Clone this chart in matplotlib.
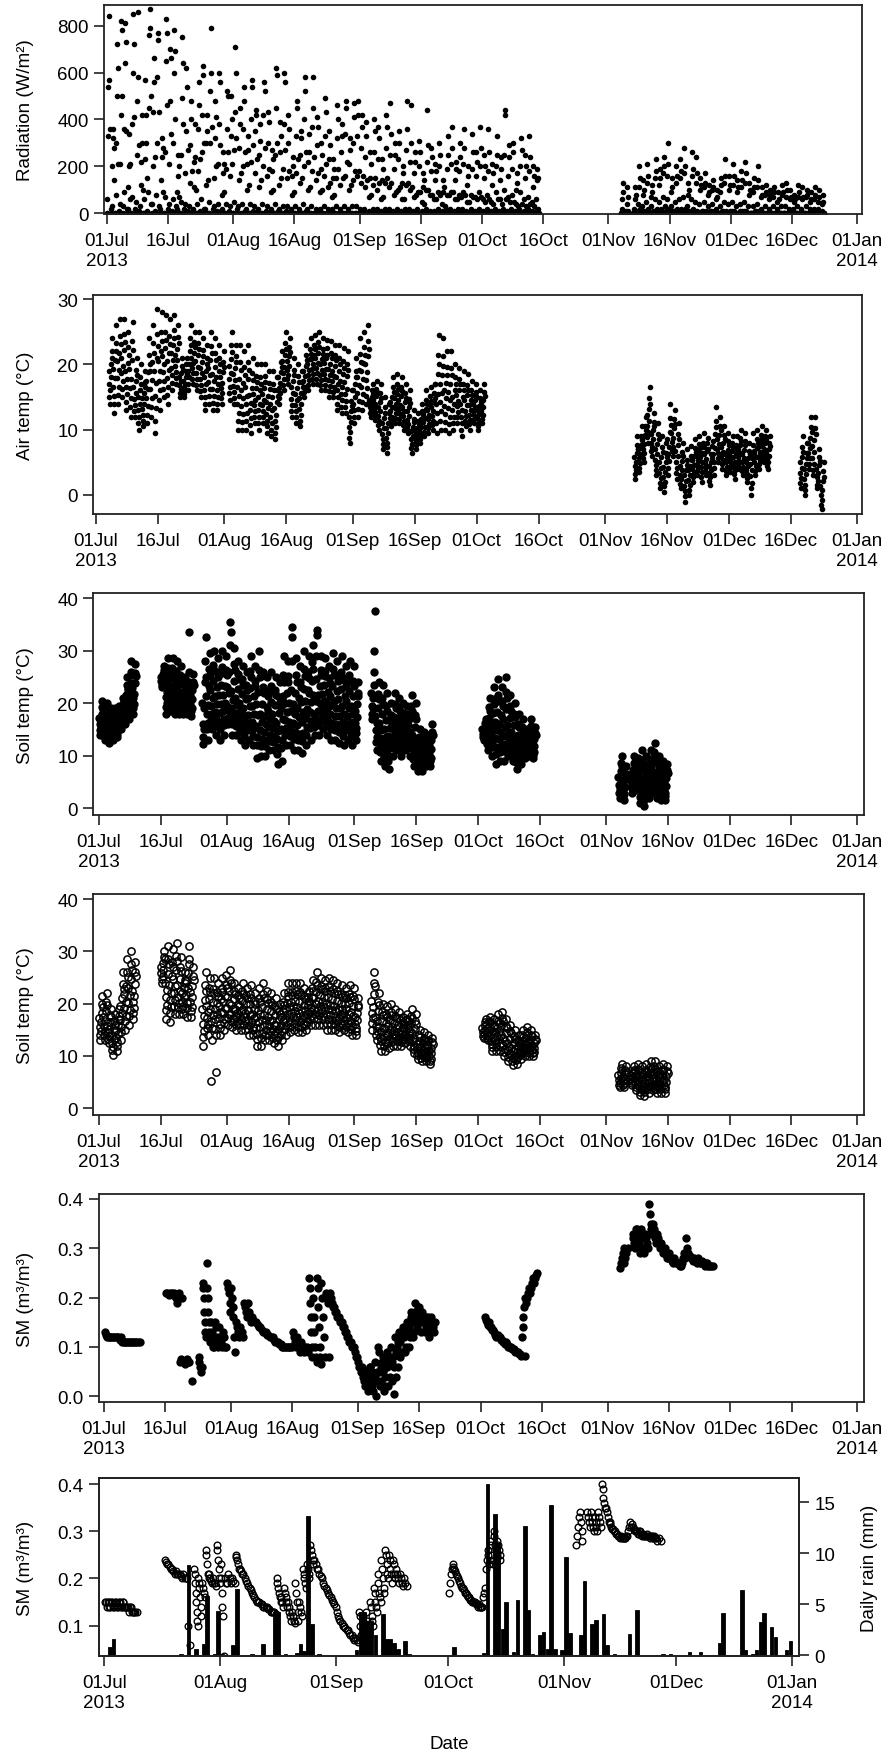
import matplotlib.pyplot as plt

plt.rcParams['font.family'] = ['Liberation Sans', 'DejaVu Sans']
plt.rcParams['font.size'] = 13.5

W, H = 884, 1758

# -------------------------------
# Date axis (days since 01 Jul 2013)
# -------------------------------
tick_days = [0, 15, 31, 46, 62, 77, 92, 107, 123, 138, 153, 168, 184]
tick_labels = ["01Jul\n2013", "16Jul", "01Aug", "16Aug", "01Sep", "16Sep", "01Oct",
               "16Oct", "01Nov", "16Nov", "01Dec", "16Dec", "01Jan\n2014"]
month_days = [0, 31, 62, 92, 123, 153, 184]
month_labels = ["01Jul\n2013", "01Aug", "01Sep", "01Oct", "01Nov", "01Dec", "01Jan\n2014"]

# -------------------------------
# Radiation (W/m2), readings per day
# -------------------------------
rad_jul = [
    [0, 60, 330, 540, 840, 570, 360, 20], [0, 30, 200, 320, 360, 280, 140, 0],
    [0, 80, 300, 500, 720, 620, 210, 10], [0, 40, 210, 420, 820, 780, 500, 30],
    [0, 90, 360, 640, 810, 730, 350, 20], [0, 20, 110, 200, 340, 210, 60, 0],
    [0, 70, 380, 600, 850, 720, 410, 20], [0, 50, 250, 480, 860, 580, 290, 10],
    [0, 30, 120, 220, 420, 300, 100, 0], [0, 60, 230, 570, 420, 300, 150, 10],
    [0, 90, 450, 760, 870, 790, 500, 40], [0, 40, 200, 430, 660, 560, 240, 10],
    [0, 80, 300, 580, 770, 740, 430, 30], [0, 20, 140, 240, 320, 280, 90, 0],
    [0, 70, 260, 650, 830, 770, 460, 20], [0, 40, 210, 480, 700, 660, 340, 10],
    [0, 60, 300, 600, 780, 690, 400, 30], [0, 20, 90, 160, 250, 200, 70, 0],
    [0, 50, 250, 490, 750, 640, 380, 20], [0, 40, 170, 350, 620, 540, 270, 10],
    [0, 30, 130, 290, 480, 400, 180, 0], [0, 20, 110, 220, 380, 240, 100, 0],
    [0, 40, 180, 360, 560, 460, 230, 10], [0, 60, 260, 420, 630, 590, 300, 20],
    [0, 20, 120, 300, 420, 350, 140, 0], [0, 50, 300, 520, 790, 600, 370, 20],
    [0, 30, 150, 320, 480, 410, 200, 10], [0, 40, 210, 380, 600, 560, 290, 10],
    [0, 20, 80, 170, 260, 210, 90, 0], [0, 40, 190, 360, 520, 500, 260, 10],
    [0, 30, 160, 330, 500, 400, 210, 0],
]
rad_aug = [
    [0, 50, 270, 430, 710, 600, 320, 20], [0, 30, 140, 280, 450, 380, 170, 0],
    [0, 40, 200, 360, 540, 480, 260, 10], [0, 20, 100, 210, 330, 270, 120, 0],
    [0, 40, 220, 400, 570, 540, 290, 10], [0, 30, 170, 350, 440, 420, 230, 0],
    [0, 20, 110, 250, 380, 310, 140, 0], [0, 40, 200, 420, 560, 520, 280, 10],
    [0, 30, 160, 300, 430, 390, 190, 0], [0, 20, 90, 180, 270, 230, 100, 0],
    [0, 40, 250, 450, 620, 590, 300, 10], [0, 20, 120, 260, 390, 330, 150, 0],
    [0, 30, 190, 380, 600, 560, 270, 10], [0, 30, 150, 300, 420, 360, 180, 0],
    [0, 20, 80, 160, 240, 200, 90, 0], [0, 30, 170, 330, 480, 450, 230, 0],
    [0, 20, 130, 250, 350, 320, 150, 0], [0, 40, 200, 400, 580, 520, 260, 10],
    [0, 20, 100, 220, 340, 260, 110, 0], [0, 30, 180, 370, 580, 450, 240, 0],
    [0, 20, 140, 290, 410, 370, 170, 0], [0, 20, 90, 190, 300, 250, 100, 0],
    [0, 30, 160, 330, 490, 430, 210, 0], [0, 20, 110, 230, 350, 290, 130, 0],
    [0, 20, 70, 150, 230, 190, 80, 0], [0, 30, 150, 320, 460, 400, 190, 0],
    [0, 20, 120, 260, 380, 330, 150, 0], [0, 30, 160, 340, 480, 450, 220, 0],
    [0, 20, 100, 210, 320, 270, 120, 0], [0, 30, 140, 300, 470, 410, 180, 0],
    [0, 30, 160, 330, 480, 420, 180, 0],
]
rad_sep = [
    [0, 20, 130, 280, 420, 370, 160, 0], [0, 20, 110, 240, 390, 330, 140, 0],
    [0, 10, 70, 150, 260, 210, 80, 0], [0, 20, 120, 260, 400, 350, 150, 0],
    [0, 20, 100, 230, 370, 320, 130, 0], [0, 10, 60, 140, 230, 190, 70, 0],
    [0, 20, 130, 280, 420, 370, 150, 0], [0, 20, 110, 250, 470, 340, 130, 0],
    [0, 10, 80, 190, 300, 250, 90, 0], [0, 20, 100, 230, 350, 300, 110, 0],
    [0, 10, 60, 130, 200, 170, 60, 0], [0, 20, 120, 270, 480, 360, 130, 0],
    [0, 20, 100, 220, 460, 300, 110, 0], [0, 10, 70, 170, 260, 220, 80, 0],
    [0, 20, 90, 200, 310, 260, 90, 0], [0, 10, 50, 110, 170, 140, 40, 0],
    [0, 20, 100, 220, 440, 290, 100, 0], [0, 10, 80, 180, 280, 240, 80, 0],
    [0, 10, 60, 140, 210, 180, 60, 0], [0, 20, 90, 200, 300, 250, 80, 0],
    [0, 10, 40, 90, 140, 110, 30, 0], [0, 20, 80, 190, 330, 250, 80, 0],
    [0, 20, 90, 210, 370, 280, 90, 0], [0, 10, 60, 140, 220, 190, 60, 0],
    [0, 20, 80, 180, 300, 240, 70, 0], [0, 20, 90, 210, 360, 280, 80, 0],
    [0, 10, 50, 120, 200, 160, 50, 0], [0, 20, 80, 190, 340, 260, 70, 0],
    [0, 10, 70, 160, 260, 220, 60, 0], [0, 20, 90, 200, 370, 280, 70, 0],
]
rad_oct = [
    [0, 10, 60, 150, 250, 200, 50, 0], [0, 20, 80, 180, 360, 260, 60, 0],
    [0, 10, 50, 120, 210, 170, 40, 0], [0, 20, 90, 200, 330, 250, 60, 0],
    [0, 10, 60, 140, 240, 190, 40, 0], [0, 20, 100, 250, 440, 420, 60, 0],
    [0, 10, 70, 160, 290, 240, 50, 0], [0, 20, 80, 190, 300, 260, 50, 0],
    [0, 10, 40, 100, 170, 130, 30, 0], [0, 20, 90, 200, 320, 270, 40, 0],
    [0, 10, 60, 150, 250, 200, 30, 0], [0, 20, 70, 180, 330, 240, 40, 0],
    [0, 10, 50, 110, 200, 160, 30, 0], [0, 10, 60, 140, 190, 150, 20, 0],
]
rad_nov1 = [
    [0, 0, 20, 60, 130, 90, 10, 0], [0, 0, 10, 40, 110, 70, 10, 0],
]
rad_nov_dec = [
    [0, 0, 20, 60, 110, 80, 10, 0], [0, 10, 40, 110, 200, 150, 20, 0],
    [0, 0, 30, 80, 140, 100, 10, 0], [0, 10, 50, 130, 210, 160, 20, 0],
    [0, 0, 30, 70, 120, 90, 10, 0], [0, 10, 60, 150, 230, 180, 20, 0],
    [0, 10, 50, 120, 190, 150, 20, 0], [0, 10, 70, 170, 240, 200, 30, 0],
    [0, 10, 60, 160, 300, 210, 20, 0], [0, 0, 30, 90, 150, 110, 10, 0],
    [0, 10, 50, 130, 200, 160, 20, 0], [0, 10, 60, 150, 230, 180, 20, 0],
    [0, 10, 70, 170, 280, 200, 20, 0], [0, 0, 30, 80, 130, 100, 10, 0],
    [0, 10, 60, 160, 260, 190, 20, 0], [0, 10, 50, 130, 240, 170, 10, 0],
    [0, 0, 40, 100, 150, 120, 10, 0], [0, 10, 50, 110, 170, 130, 10, 0],
    [0, 0, 30, 80, 120, 90, 10, 0], [0, 10, 40, 100, 140, 110, 10, 0],
    [0, 0, 20, 60, 100, 70, 0, 0], [0, 0, 30, 90, 150, 120, 10, 0],
    [0, 10, 50, 130, 230, 160, 10, 0], [0, 0, 40, 100, 160, 120, 10, 0],
    [0, 10, 50, 120, 210, 160, 10, 0], [0, 0, 30, 90, 140, 110, 0, 0],
    [0, 10, 40, 110, 180, 140, 10, 0], [0, 10, 50, 130, 220, 170, 10, 0],
    [0, 0, 30, 80, 130, 100, 0, 0], [0, 0, 30, 90, 150, 110, 10, 0],
    [0, 10, 40, 110, 200, 140, 10, 0], [0, 0, 20, 70, 110, 80, 0, 0],
    [0, 0, 30, 80, 120, 90, 0, 0], [0, 0, 20, 60, 100, 80, 0, 0],
    [0, 0, 30, 70, 110, 90, 0, 0], [0, 0, 20, 50, 90, 60, 0, 0],
    [0, 0, 30, 80, 120, 90, 0, 0], [0, 0, 30, 70, 130, 100, 0, 0],
    [0, 0, 20, 60, 100, 70, 0, 0], [0, 0, 20, 50, 80, 60, 0, 0],
    [0, 0, 30, 70, 120, 90, 0, 0], [0, 0, 20, 60, 110, 70, 0, 0],
    [0, 0, 30, 70, 100, 80, 0, 0], [0, 0, 20, 50, 90, 60, 0, 0],
    [0, 0, 20, 60, 110, 80, 0, 0], [0, 0, 20, 50, 100, 70, 0, 0],
    [0, 0, 10, 40, 80, 50, 0, 0],
]

# -------------------------------
# Air temperature (C)
# -------------------------------
air_jul_oct = [
    [19, 17, 15, 14, 16, 18, 20, 22, 24, 21],
    [19.3, 16.6, 13.9, 12.5, 15.2, 17.9, 20.6, 23.3, 26, 22],
    [20.5, 17.9, 15.3, 14, 16.6, 19.2, 21.8, 24.4, 27, 23.1],
    [21, 18.6, 16.2, 15, 17.4, 19.8, 22.2, 24.6, 27, 23.4],
    [19, 16.6, 14.2, 13, 15.4, 17.8, 20.2, 22.6, 25, 21.4],
    [19.3, 16.4, 13.5, 12, 14.9, 17.8, 20.7, 23.6, 26.5, 22.2],
    [16.5, 14.7, 12.9, 12, 13.8, 15.6, 17.4, 19.2, 21, 18.3],
    [15, 13, 11, 10, 12, 14, 16, 18, 20, 17],
    [14.8, 13.1, 11.4, 10.5, 12.2, 13.9, 15.6, 17.3, 19, 16.5],
    [17.5, 14.9, 12.3, 11, 13.6, 16.2, 18.8, 21.4, 24, 20.1],
    [19, 16.2, 13.4, 12, 14.8, 17.6, 20.4, 23.2, 26, 21.8],
    [19, 15.2, 11.4, 9.5, 13.3, 17.1, 20.9, 24.7, 28.5, 22.8],
    [20.5, 17.5, 14.5, 13, 16, 19, 22, 25, 28, 23.5],
    [21.3, 18.8, 16.3, 15, 17.5, 20, 22.5, 25, 27.5, 23.8],
    [20.5, 17.9, 15.3, 14, 16.6, 19.2, 21.8, 24.4, 27, 23.1],
    [21.8, 19.5, 17.2, 16, 18.3, 20.6, 22.9, 25.2, 27.5, 24.1],
    [21.5, 19.7, 17.9, 17, 18.8, 20.6, 22.4, 24.2, 26, 23.3],
    [18, 16.8, 15.6, 15, 16.2, 17.4, 18.6, 19.8, 21, 19.2],
    [17.5, 16.5, 15.5, 15, 16, 17, 18, 19, 20, 18.5],
    [21, 19, 17, 16, 18, 20, 22, 24, 26, 23],
    [21, 19.4, 17.8, 17, 18.6, 20.2, 21.8, 23.4, 25, 22.6],
    [20.5, 18.7, 16.9, 16, 17.8, 19.6, 21.4, 23.2, 25, 22.3],
    [19.5, 17.7, 15.9, 15, 16.8, 18.6, 20.4, 22.2, 24, 21.3],
    [18, 16, 14, 13, 15, 17, 19, 21, 23, 20],
    [19.5, 17.3, 15.1, 14, 16.2, 18.4, 20.6, 22.8, 25, 21.7],
    [18.5, 16.3, 14.1, 13, 15.2, 17.4, 19.6, 21.8, 24, 20.7],
    [18, 16, 14, 13, 15, 17, 19, 21, 23, 20],
    [18, 16.4, 14.8, 14, 15.6, 17.2, 18.8, 20.4, 22, 19.6],
    [],
    [19.8, 17.7, 15.6, 14.5, 16.6, 18.7, 20.8, 22.9, 25, 21.9],
    [18.5, 16.7, 14.9, 14, 15.8, 17.6, 19.4, 21.2, 23, 20.3],
    [16.5, 13.9, 11.3, 10, 12.6, 15.2, 17.8, 20.4, 23, 19.1],
    [16, 13.6, 11.2, 10, 12.4, 14.8, 17.2, 19.6, 22, 18.4],
    [16.5, 13.9, 11.3, 10, 12.6, 15.2, 17.8, 20.4, 23, 19.1],
    [15.3, 13, 10.7, 9.5, 11.8, 14.1, 16.4, 18.7, 21, 17.6],
    [15.5, 13.7, 11.9, 11, 12.8, 14.6, 16.4, 18.2, 20, 17.3],
    [15, 13, 11, 10, 12, 14, 16, 18, 20, 17],
    [15.5, 13.7, 11.9, 11, 12.8, 14.6, 16.4, 18.2, 20, 17.3],
    [14.3, 12.4, 10.5, 9.5, 11.4, 13.3, 15.2, 17.1, 19, 16.2],
    [14, 12, 10, 9, 11, 13, 15, 17, 19, 16],
    [13.3, 11.4, 9.5, 8.5, 10.4, 12.3, 14.2, 16.1, 18, 15.2],
    [18, 16.4, 14.8, 14, 15.6, 17.2, 18.8, 20.4, 22, 19.6],
    [20.5, 18.7, 16.9, 16, 17.8, 19.6, 21.4, 23.2, 25, 22.3],
    [20.5, 19.1, 17.7, 17, 18.4, 19.8, 21.2, 22.6, 24, 21.9],
    [16.5, 14.7, 12.9, 12, 13.8, 15.6, 17.4, 19.2, 21, 18.3],
    [15.5, 13.7, 11.9, 11, 12.8, 14.6, 16.4, 18.2, 20, 17.3],
    [14.8, 13.1, 11.4, 10.5, 12.2, 13.9, 15.6, 17.3, 19, 16.5],
    [19, 17.4, 15.8, 15, 16.6, 18.2, 19.8, 21.4, 23, 20.6],
    [20, 18.4, 16.8, 16, 17.6, 19.2, 20.8, 22.4, 24, 21.6],
    [20.8, 19.3, 17.8, 17, 18.5, 20, 21.5, 23, 24.5, 22.3],
    [21, 19.4, 17.8, 17, 18.6, 20.2, 21.8, 23.4, 25, 22.6],
    [20, 18.4, 16.8, 16, 17.6, 19.2, 20.8, 22.4, 24, 21.6],
    [20.2, 18.5, 16.9, 16, 17.7, 19.3, 20.9, 22.5, 23.8, 21.5],
    [19.3, 17.6, 15.9, 15, 16.7, 18.4, 20.1, 21.8, 23.5, 21],
    [19, 17.4, 15.8, 15, 16.6, 18.2, 19.8, 21.4, 23, 20.6],
    [18, 16, 14, 13, 15, 17, 19, 21, 23, 20],
    [17.5, 15.5, 13.5, 12.5, 14.5, 16.5, 18.5, 20.5, 22.5, 19.5],
    [17.3, 15.4, 13.5, 12.5, 14.4, 16.3, 18.2, 20.1, 22, 19.2],
    [12, 10.4, 8.8, 8, 9.6, 11.2, 12.8, 14.4, 16, 13.6],
    [16, 14, 12, 11, 13, 15, 17, 19, 21, 18],
    [18, 15.6, 13.2, 12, 14.4, 16.8, 19.2, 21.6, 24, 20.4],
    [19, 16.6, 14.2, 13, 15.4, 17.8, 20.2, 22.6, 25, 21.4],
    [20, 17.6, 15.2, 14, 16.4, 18.8, 21.2, 23.6, 26, 22.4],
    [14.5, 13.5, 12.5, 12, 13, 14, 15, 16, 17, 15.5],
    [14.5, 13.3, 12.1, 11.5, 12.7, 13.9, 15.1, 16.3, 17.5, 15.7],
    [13.5, 12.1, 10.7, 10, 11.4, 12.8, 14.2, 15.6, 17, 14.9],
    [11, 9.4, 7.8, 7, 8.6, 10.2, 11.8, 13.4, 15, 12.6],
    [10.3, 8.8, 7.3, 6.5, 8, 9.5, 11, 12.5, 14, 11.8],
    [14.3, 12.8, 11.3, 10.5, 12, 13.5, 15, 16.5, 18, 15.8],
    [14.8, 13.3, 11.8, 11, 12.5, 14, 15.5, 17, 18.5, 16.3],
    [14.5, 13.1, 11.7, 11, 12.4, 13.8, 15.2, 16.6, 18, 15.9],
    [13.5, 12.1, 10.7, 10, 11.4, 12.8, 14.2, 15.6, 17, 14.9],
    [12.8, 11.5, 10.2, 9.5, 10.8, 12.1, 13.4, 14.7, 16, 14.1],
    [9.8, 8.5, 7.2, 6.5, 7.8, 9.1, 10.4, 11.7, 13, 11.1],
    [9.8, 8.7, 7.6, 7, 8.1, 9.2, 10.3, 11.4, 12.5, 10.9],
    [11, 9.8, 8.6, 8, 9.2, 10.4, 11.6, 12.8, 14, 12.2],
    [12.5, 11.1, 9.7, 9, 10.4, 11.8, 13.2, 14.6, 16, 13.9],
    [13, 11.6, 10.2, 9.5, 10.9, 12.3, 13.7, 15.1, 16.5, 14.4],
    [13.5, 12.1, 10.7, 10, 11.4, 12.8, 14.2, 15.6, 17, 14.9],
    [17, 14, 11, 9.5, 12.5, 15.5, 18.5, 21.5, 24.5, 20],
    [17, 14.2, 11.4, 10, 12.8, 15.6, 18.4, 21.2, 24, 19.8],
    [16, 13.6, 11.2, 10, 12.4, 14.8, 17.2, 19.6, 22, 18.4],
    [15.8, 13.3, 10.8, 9.5, 12, 14.5, 17, 19.5, 22, 18.3],
    [15, 13, 11, 10, 12, 14, 16, 18, 20, 17],
    [15.3, 13.6, 11.9, 11, 12.7, 14.4, 16.1, 17.8, 19.5, 17],
    [14, 12, 10, 9, 11, 13, 15, 17, 19, 16],
    [14.5, 12.9, 11.3, 10.5, 12.1, 13.7, 15.3, 16.9, 18.5, 16.1],
    [13.8, 12.3, 10.8, 10, 11.5, 13, 14.5, 16, 17.5, 15.3],
    [14, 12.8, 11.6, 11, 12.2, 13.4, 14.6, 15.8, 17, 15.2],
    [13, 11.8, 10.6, 10, 11.2, 12.4, 13.6, 14.8, 16, 14.2],
    [14, 12.8, 11.6, 11, 12.2, 13.4, 14.6, 15.8, 17, 15.2],
]
air_nov_dec = [
    [5.8, 4.5, 3.2, 2.5, 3.8, 5.1, 6.4, 7.7, 9, 7.1],
    [7, 5.6, 4.2, 3.5, 4.9, 6.3, 7.7, 9.1, 10.5, 8.4],
    [8.5, 7.1, 5.7, 5, 6.4, 7.8, 9.2, 10.6, 12, 9.9],
    [12.3, 10.6, 8.9, 8, 9.7, 11.4, 13.1, 14.8, 16.5, 14],
    [9.3, 8, 6.7, 6, 7.3, 8.6, 9.9, 11.2, 12.5, 10.6],
    [7, 5.4, 3.8, 3, 4.6, 6.2, 7.8, 9.4, 11, 8.6],
    [5, 3.4, 1.8, 1, 2.6, 4.2, 5.8, 7.4, 9, 6.6],
    [4.3, 2.8, 1.3, 0.5, 2, 3.5, 5, 6.5, 8, 5.8],
    [8.5, 6.3, 4.1, 3, 5.2, 7.4, 9.6, 11.8, 14, 10.7],
    [9.5, 8.1, 6.7, 6, 7.4, 8.8, 10.2, 11.6, 13, 10.9],
    [6.8, 5.1, 3.4, 2.5, 4.2, 5.9, 7.6, 9.3, 11, 8.5],
    [4.5, 3.1, 1.7, 1, 2.4, 3.8, 5.2, 6.6, 8, 5.9],
    [3, 1.4, -0.2, -1, 0.6, 2.2, 3.8, 5.4, 7, 4.6],
    [3.8, 2.3, 0.8, 0, 1.5, 3, 4.5, 6, 7.5, 5.3],
    [5.3, 4, 2.7, 2, 3.3, 4.6, 5.9, 7.2, 8.5, 6.6],
    [6, 4.8, 3.6, 3, 4.2, 5.4, 6.6, 7.8, 9, 7.2],
    [5.8, 4.3, 2.8, 2, 3.5, 5, 6.5, 8, 9.5, 7.3],
    [6.2, 4.9, 3.7, 3.1, 4.3, 5.5, 6.7, 7.9, 8.8, 7],
    [4.5, 3.3, 2.1, 1.5, 2.7, 3.9, 5.1, 6.3, 7.5, 5.7],
    [8.3, 6.2, 4.1, 3, 5.1, 7.2, 9.3, 11.4, 13.5, 10.4],
    [8.5, 7.1, 5.7, 5, 6.4, 7.8, 9.2, 10.6, 12, 9.9],
    [7.3, 6, 4.7, 4, 5.3, 6.6, 7.9, 9.2, 10.5, 8.6],
    [6.3, 5, 3.7, 3, 4.3, 5.6, 6.9, 8.2, 9.5, 7.6],
    [6.3, 5.2, 4.1, 3.5, 4.6, 5.7, 6.8, 7.9, 9, 7.4],
    [5.8, 4.5, 3.2, 2.5, 3.8, 5.1, 6.4, 7.7, 9, 7.1],
    [7, 5.8, 4.6, 4, 5.2, 6.4, 7.6, 8.8, 10, 8.2],
    [6.3, 5, 3.7, 3, 4.3, 5.6, 6.9, 8.2, 9.5, 7.6],
    [5, 3.8, 2.6, 2, 3.2, 4.4, 5.6, 6.8, 8, 6.2],
    [4.8, 2.9, 1, 0, 1.9, 3.8, 5.7, 7.6, 9.5, 6.7],
    [6.5, 5.1, 3.7, 3, 4.4, 5.8, 7.2, 8.6, 10, 7.9],
    [7.3, 6, 4.7, 4, 5.3, 6.6, 7.9, 9.2, 10.5, 8.6],
    [7.5, 6.5, 5.5, 5, 6, 7, 8, 9, 10, 8.5],
    [6.5, 5.5, 4.5, 4, 5, 6, 7, 8, 9, 7.5],
]
air_dec = [
    [5, 3.4, 1.8, 1, 2.6, 4.2, 5.8, 7.4, 9, 6.6],
    [4, 2.4, 0.8, 0, 1.6, 3.2, 4.8, 6.4, 8, 5.6],
    [8, 6.4, 4.8, 4, 5.6, 7.2, 8.8, 10.4, 12, 9.6],
    [7.5, 5.7, 3.9, 3, 4.8, 6.6, 8.4, 10.2, 12, 9.3],
    [4, 2.8, 1.6, 1, 2.2, 3.4, 4.6, 5.8, 7, 5.2],
    [1.4, 0, -1.5, -2.2, -0.8, 0.7, 2.1, 3.6, 5, 2.8],
]

# -------------------------------
# Soil temperature, first sensor (C)
# -------------------------------
soil1_jul = [
    [17.2, 16, 14.8, 14, 15.3, 16.6, 18, 19.3, 20.5, 18.9],
    [16.5, 15.1, 13.8, 13, 14.4, 15.8, 17.3, 18.7, 20, 18.3],
    [15.7, 14.5, 13.3, 12.5, 13.8, 15.1, 16.5, 17.8, 19, 17.4],
    [16, 14.8, 13.7, 13, 14.2, 15.4, 16.7, 17.9, 19, 17.5],
    [16.5, 15.3, 14.2, 13.5, 14.7, 15.9, 17.2, 18.4, 19.5, 18],
    [18, 16.8, 15.7, 15, 16.2, 17.4, 18.7, 19.9, 21, 19.5],
    [20.5, 18.7, 17.1, 16, 17.8, 19.6, 21.6, 23.4, 25, 22.8],
    [22.5, 20.3, 18.3, 17, 19.2, 21.4, 23.8, 26, 28, 25.3],
    [22.8, 20.9, 19.1, 18, 19.9, 21.8, 23.9, 25.8, 27.5, 25.1],
]
soil1_jul2 = [
    [25, 24.2, 23.5, 23, 23.8, 24.6, 25.5, 26.3, 27, 26],
    [23.3, 21.2, 19.3, 18, 20.1, 22.2, 24.5, 26.6, 28.5, 25.9],
    [23.5, 21.5, 19.7, 18.5, 20.5, 22.5, 24.7, 26.7, 28.5, 26],
    [23, 21, 19.2, 18, 20, 22, 24.2, 26.2, 28, 25.5],
    [22.5, 20.7, 19.1, 18, 19.8, 21.6, 23.6, 25.4, 27, 24.8],
    [21.5, 20.1, 18.8, 18, 19.4, 20.8, 22.3, 23.7, 25, 23.3],
    [22, 20.3, 18.9, 18, 19.6, 21.2, 23, 33.5, 26, 24],
    [21.5, 19.9, 18.5, 17.5, 19.1, 20.7, 22.5, 24, 25.5, 23.5],
]
soil1_aug = [
    [20, 16, 13.5, 12.3, 15, 19, 24, 28, 32.5, 25],
    [21.3, 18, 15, 13, 16.3, 19.6, 23.2, 26.5, 29.5, 25.4],
    [22.5, 19.5, 16.8, 15, 18, 21, 24.3, 27.3, 30, 26.3],
    [21.3, 18.4, 15.7, 14, 16.9, 19.8, 23, 25.9, 28.5, 24.9],
    [21.5, 18.1, 15, 13, 16.4, 19.8, 23.5, 26.9, 30, 25.8],
    [21.5, 18.5, 15.8, 14, 17, 20, 23.3, 26.3, 29, 25.3],
    [23, 19.5, 17.2, 16, 18.5, 22, 26, 31, 35.5, 33.5],
    [22.3, 19, 16, 14, 17.3, 20.6, 24.2, 27.5, 30.5, 26.4],
    [21, 18.2, 15.7, 14, 16.8, 19.6, 22.7, 25.5, 28, 24.5],
    [20, 17.2, 14.7, 13, 15.8, 18.6, 21.7, 24.5, 27, 23.5],
    [19, 16.2, 13.7, 12, 14.8, 17.6, 20.7, 23.5, 26, 22.5],
    [21, 17.8, 14.9, 13, 16.2, 19.4, 22.9, 26.1, 29, 25],
    [19.5, 16.5, 13.8, 12, 15, 18, 21.3, 24.3, 27, 23.3],
    [19.8, 15.7, 12, 9.5, 13.6, 17.7, 22.2, 26.3, 30, 24.9],
    [18, 14.8, 11.9, 10, 13.2, 16.4, 19.9, 23.1, 26, 22],
    [17.5, 14.5, 11.8, 10, 13, 16, 19.3, 22.3, 25, 21.3],
    [18.5, 15.5, 12.8, 11, 14, 17, 20.3, 23.3, 26, 22.3],
    [18, 15.2, 12.7, 11, 13.8, 16.6, 19.7, 22.5, 25, 21.5],
    [16.3, 13.2, 10.4, 8.5, 11.6, 14.7, 18.1, 21.2, 24, 20.1],
    [19, 15, 11.4, 9, 13, 17, 21.4, 25.4, 29, 24],
    [20, 16.8, 13.9, 12, 15.2, 18.4, 21.9, 25.1, 28, 24],
    [20, 16.5, 13.8, 12, 15, 18.5, 22.5, 28, 34.5, 32.5],
    [19.8, 16.3, 13.1, 11, 14.5, 18, 21.9, 25.4, 28.5, 24.1],
    [19, 15.8, 12.9, 11, 14.2, 17.4, 20.9, 24.1, 27, 23],
    [20.3, 16.4, 12.8, 10.5, 14.4, 18.3, 22.6, 26.5, 30, 25.1],
    [20.5, 17.1, 14, 12, 15.4, 18.8, 22.5, 25.9, 29, 24.8],
    [22, 18.4, 15.2, 13, 16.6, 20.2, 24.2, 27.8, 31, 26.5],
    [21.5, 18, 15.5, 14, 17, 20.5, 24.5, 29, 34, 33],
    [21.5, 18.5, 15.8, 14, 17, 20, 23.3, 26.3, 29, 25.3],
    [21.8, 19.1, 16.6, 15, 17.7, 20.4, 23.4, 26.1, 28.5, 25.1],
    [20.5, 17.9, 15.6, 14, 16.6, 19.2, 22.1, 24.7, 27, 23.8],
    [21.3, 18, 15, 13, 16.3, 19.6, 23.2, 26.5, 29.5, 25.4],
    [20.5, 17.5, 14.8, 13, 16, 19, 22.3, 25.3, 28, 24.3],
    [20.8, 17.5, 14.5, 12.5, 15.8, 19.1, 22.7, 26, 29, 24.9],
    [19.5, 16.5, 13.8, 12, 15, 18, 21.3, 24.3, 27, 23.3],
    [20.5, 17.5, 14.8, 13, 16, 19, 22.3, 25.3, 28, 24.3],
    [19.5, 16.5, 13.8, 12, 15, 18, 21.3, 24.3, 27, 23.3],
    [18.5, 16.3, 14.3, 13, 15.2, 17.4, 19.8, 22, 24, 21.3],
]
soil1_sep = [
    [22, 19.5, 18, 17, 19, 21, 23.5, 26, 30, 37.5],
    [17.5, 14.9, 12.6, 11, 13.6, 16.2, 19.1, 21.7, 24, 20.8],
    [16.3, 13.4, 10.7, 9, 11.9, 14.8, 18, 20.9, 23.5, 19.9],
    [15, 12.2, 9.7, 8, 10.8, 13.6, 16.7, 19.5, 22, 18.5],
    [13.8, 11.3, 9, 7.5, 10, 12.5, 15.3, 17.8, 20, 16.9],
    [16, 13.6, 11.4, 10, 12.4, 14.8, 17.4, 19.8, 22, 19],
    [16, 14, 12.2, 11, 13, 15, 17.2, 19.2, 21, 18.5],
    [15, 13, 11.2, 10, 12, 14, 16.2, 18.2, 20, 17.5],
    [15.3, 13.6, 12, 11, 12.7, 14.4, 16.3, 18, 19.5, 17.4],
    [15.8, 13.5, 11.4, 10, 12.3, 14.6, 17.1, 19.4, 21.5, 18.6],
    [14, 11.6, 9.4, 8, 10.4, 12.8, 15.4, 17.8, 20, 17],
    [11, 9.4, 8, 7, 8.6, 10.2, 12, 13.6, 15, 13],
    [10.8, 9.3, 7.9, 7, 8.5, 10, 11.7, 13.2, 14.5, 12.6],
    [11, 9.8, 8.7, 8, 9.2, 10.4, 11.7, 12.9, 14, 12.5],
    [12, 10.4, 9, 8, 9.6, 11.2, 13, 14.6, 16, 14],
]
soil1_oct = [
    [15, 14.2, 13.5, 13, 13.8, 14.6, 15.5, 16.3, 17, 16],
    [16, 14, 12.2, 11, 13, 15, 17.2, 19.2, 21, 18.5],
    [16.5, 13.9, 11.6, 10, 12.6, 15.2, 18.1, 20.7, 23, 19.8],
    [16.5, 13.3, 10.4, 8.5, 11.7, 14.9, 18.4, 21.6, 24.5, 20.5],
    [16, 13.2, 10.7, 9, 11.8, 14.6, 17.7, 20.5, 23, 19.5],
    [17, 13.8, 10.9, 9, 12.2, 15.4, 18.9, 22.1, 25, 21],
    [15.8, 13.5, 11.4, 10, 12.3, 14.6, 17.1, 19.4, 21.5, 18.6],
    [14.5, 12.3, 10.3, 9, 11.2, 13.4, 15.8, 18, 20, 17.3],
    [12.8, 10.7, 8.8, 7.5, 9.6, 11.7, 14, 16.1, 18, 15.4],
    [12.8, 11.1, 9.5, 8.5, 10.2, 11.9, 13.8, 15.5, 17, 14.9],
    [12.3, 11.2, 10.2, 9.5, 10.6, 11.7, 12.9, 14, 15, 13.6],
    [13.5, 12.1, 10.8, 10, 11.4, 12.8, 14.3, 15.7, 17, 15.3],
    [12.5, 11.3, 10.2, 9.5, 10.7, 11.9, 13.2, 14.4, 15.5, 14],
]
soil1_nov = [
    [6, 4.4, 3, 2, 3.6, 5.2, 7, 8.6, 10, 8],
    [4.8, 3.5, 2.3, 1.5, 2.8, 4.1, 5.5, 6.8, 8, 6.4],
    [],
    [6.5, 5.1, 3.8, 3, 4.4, 5.8, 7.3, 8.7, 10, 8.3],
    [6.5, 5.3, 4.2, 3.5, 4.7, 5.9, 7.2, 8.4, 9.5, 8],
    [6, 4, 2.2, 1, 3, 5, 7.2, 9.2, 11, 8.5],
    [5.3, 3.4, 1.6, 0.5, 2.4, 4.3, 6.4, 8.3, 10, 7.6],
    [6.5, 4.7, 3.1, 2, 3.8, 5.6, 7.6, 9.4, 11, 8.8],
    [7.8, 5.9, 4.1, 3, 4.9, 6.8, 8.9, 10.8, 12.5, 10.1],
    [6, 4.4, 3, 2, 3.6, 5.2, 7, 8.6, 10, 8],
    [5.3, 3.8, 2.4, 1.5, 3, 4.5, 6.2, 7.7, 9, 7.1],
    [5, 3.6, 2.3, 1.5, 2.9, 4.3, 5.8, 7.2, 8.5, 6.8],
]

# -------------------------------
# Soil temperature, second sensor (C)
# -------------------------------
soil2_jul = [
    [17.3, 15.6, 14, 13, 14.7, 16.4, 18.3, 20, 21.5, 19.4],
    [17.5, 15.7, 14.1, 13, 14.8, 16.6, 18.6, 20.4, 22, 19.8],
    [15.8, 14.5, 13.3, 12.5, 13.8, 15.1, 16.5, 17.8, 19, 17.4],
    [14.1, 12.5, 11.1, 10.2, 11.8, 13.3, 15, 16.6, 18, 16],
    [15, 13.4, 12, 11, 12.6, 14.2, 16, 17.6, 19, 17],
    [19.5, 16.9, 14.6, 13, 15.6, 18.2, 21.1, 23.7, 26, 22.8],
    [21.8, 19.1, 16.6, 15, 17.7, 20.4, 23.4, 26.1, 28.5, 25.1],
    [23, 20.2, 17.7, 16, 18.8, 21.6, 24.7, 27.5, 30, 26.5],
    [22.5, 20.3, 18.3, 17, 19.2, 21.4, 23.8, 26, 28, 25.3],
]
soil2_jul2 = [
    [27, 25.8, 24.7, 24, 25.2, 26.4, 27.7, 28.9, 30, 28.5],
    [24, 21.2, 18.7, 17, 19.8, 22.6, 25.7, 28.5, 31, 27.5],
    [23.5, 20.7, 18.2, 16.5, 19.3, 22.1, 25.2, 28, 30.5, 27],
    [24.8, 22.1, 19.6, 18, 20.7, 23.4, 26.4, 29.1, 31.5, 28.1],
    [23.5, 21.3, 19.3, 18, 20.2, 22.4, 24.8, 27, 29, 26.3],
    [22, 20.4, 19, 18, 19.6, 21.2, 23, 24.6, 26, 24],
    [24.3, 21.6, 19.1, 17.5, 20.2, 22.9, 25.9, 28.6, 31, 27.6],
    [22.3, 20.4, 18.6, 17.5, 19.4, 21.3, 23.4, 25.3, 27, 24.6],
]
soil2_aug = [
    [19, 16.2, 13.7, 12, 14.8, 17.6, 20.7, 23.5, 26, 22.5],
    [19.5, 17.3, 15.3, 14, 16.2, 18.4, 20.8, 23, 25, 22.3],
    [19, 16.6, 5.3, 13, 15.4, 17.8, 20.4, 22.8, 25, 22],
    [19, 17, 15.2, 14, 7, 18, 20.2, 22.2, 24, 21.5],
    [19.5, 17.3, 15.3, 14, 16.2, 18.4, 20.8, 23, 25, 22.3],
    [20.3, 18.2, 16.3, 15, 17.1, 19.2, 21.5, 23.6, 25.5, 22.9],
    [21.3, 19.2, 17.3, 16, 18.1, 20.2, 22.5, 24.6, 26.5, 23.9],
    [19.8, 18.1, 16.5, 15.5, 17.2, 18.9, 20.8, 22.5, 24, 21.9],
    [19, 17.4, 16, 15, 16.6, 18.2, 20, 21.6, 23, 21],
    [19.5, 17.7, 16.1, 15, 16.8, 18.6, 20.6, 22.4, 24, 21.8],
    [19, 17.4, 16, 15, 16.6, 18.2, 20, 21.6, 23, 21],
    [18.8, 16.9, 15.1, 14, 15.9, 17.8, 19.9, 21.8, 23.5, 21.1],
    [18, 16.4, 15, 14, 15.6, 17.2, 19, 20.6, 22, 20],
    [17.5, 15.3, 13.3, 12, 14.2, 16.4, 18.8, 21, 23, 20.3],
    [18, 15.6, 13.4, 12, 14.4, 16.8, 19.4, 21.8, 24, 21],
    [17.8, 15.9, 14.1, 13, 14.9, 16.8, 18.9, 20.8, 22.5, 20.1],
    [17.5, 15.7, 14.1, 13, 14.8, 16.6, 18.6, 20.4, 22, 19.8],
    [16.8, 15.1, 13.5, 12.5, 14.2, 15.9, 17.8, 19.5, 21, 18.9],
    [16, 14.4, 13, 12, 13.6, 15.2, 17, 18.6, 20, 18],
    [17.5, 15.7, 14.1, 13, 14.8, 16.6, 18.6, 20.4, 22, 19.8],
    [19, 17, 15.2, 14, 16, 18, 20.2, 22.2, 24, 21.5],
    [19.3, 17.4, 15.6, 14.5, 16.4, 18.3, 20.4, 22.3, 24, 21.6],
    [19.5, 17.7, 16.1, 15, 16.8, 18.6, 20.6, 22.4, 24, 21.8],
    [19.3, 17.4, 15.6, 14.5, 16.4, 18.3, 20.4, 22.3, 24, 21.6],
    [18.8, 17.1, 15.5, 14.5, 16.2, 17.9, 19.8, 21.5, 23, 20.9],
    [18.8, 17.3, 15.9, 15, 16.5, 18, 19.7, 21.2, 22.5, 20.6],
    [20.3, 18.6, 17, 16, 17.7, 19.4, 21.3, 23, 24.5, 22.4],
    [21, 19, 17.2, 16, 18, 20, 22.2, 24.2, 26, 23.5],
    [20.5, 18.7, 17.1, 16, 17.8, 19.6, 21.6, 23.4, 25, 22.8],
    [20.3, 18.6, 17, 16, 17.7, 19.4, 21.3, 23, 24.5, 22.4],
    [20, 18, 16.2, 15, 17, 19, 21.2, 23.2, 25, 22.5],
    [19.8, 17.9, 16.1, 15, 16.9, 18.8, 20.9, 22.8, 24.5, 22.1],
    [19.5, 17.7, 16.1, 15, 16.8, 18.6, 20.6, 22.4, 24, 21.8],
    [19, 17.2, 15.6, 14.5, 16.3, 18.1, 20.1, 21.9, 23.5, 21.3],
    [19, 17.4, 16, 15, 16.6, 18.2, 20, 21.6, 23, 21],
    [19, 17.2, 15.6, 14.5, 16.3, 18.1, 20.1, 21.9, 23.5, 21.3],
    [18.5, 16.7, 15.1, 14, 15.8, 17.6, 19.6, 21.4, 23, 20.8],
    [17.5, 16.1, 14.8, 14, 15.4, 16.8, 18.3, 19.7, 21, 19.3],
]
soil2_sep = [
    [20.5, 18.3, 16.3, 15, 17.2, 19.4, 21.8, 24, 26, 23.3],
    [17.5, 15.7, 14.1, 13, 14.8, 16.6, 18.6, 20.4, 22, 19.8],
    [15.5, 13.7, 12.1, 11, 12.8, 14.6, 16.6, 18.4, 20, 17.8],
    [15.3, 13.6, 12, 11, 12.7, 14.4, 16.3, 18, 19.5, 17.4],
    [15.8, 14.1, 12.5, 11.5, 13.2, 14.9, 16.8, 18.5, 20, 17.9],
    [15.5, 14.1, 12.8, 12, 13.4, 14.8, 16.3, 17.7, 19, 17.3],
    [15.3, 14, 12.8, 12, 13.3, 14.6, 16, 17.3, 18.5, 16.9],
    [14.8, 13.7, 12.7, 12, 13.1, 14.2, 15.4, 16.5, 17.5, 16.1],
    [15.3, 14.2, 13.2, 12.5, 13.6, 14.7, 15.9, 17, 18, 16.6],
    [15.5, 14.1, 12.8, 12, 13.4, 14.8, 16.3, 17.7, 19, 17.3],
    [14.3, 12.8, 11.4, 10.5, 12, 13.5, 15.2, 16.7, 18, 16.1],
    [12.3, 11.2, 10.2, 9.5, 10.6, 11.7, 12.9, 14, 15, 13.6],
    [11.8, 10.7, 9.7, 9, 10.1, 11.2, 12.4, 13.5, 14.5, 13.1],
    [11.5, 10.5, 9.6, 9, 10, 11, 12.1, 13.1, 14, 12.8],
    [11, 10, 9.1, 8.5, 9.5, 10.5, 11.6, 12.6, 13.5, 12.3],
]
soil2_oct = [
    [15.3, 14.6, 13.9, 13.5, 14.2, 14.9, 15.7, 16.4, 17, 16.1],
    [15.3, 14.4, 13.5, 13, 13.9, 14.8, 15.8, 16.7, 17.5, 16.4],
    [14, 12.8, 11.7, 11, 12.2, 13.4, 14.7, 15.9, 17, 15.5],
    [14.5, 13.1, 11.8, 11, 12.4, 13.8, 15.3, 16.7, 18, 16.3],
    [14.8, 13.3, 11.9, 11, 12.5, 14, 15.7, 17.2, 18.5, 16.6],
    [13.5, 12.1, 10.8, 10, 11.4, 12.8, 14.3, 15.7, 17, 15.3],
    [12.5, 11.1, 9.8, 9, 10.4, 11.8, 13.3, 14.7, 16, 14.3],
    [11.6, 10.2, 9, 8.2, 9.6, 10.9, 12.4, 13.8, 15, 13.3],
    [11.3, 10.2, 9.2, 8.5, 9.6, 10.7, 11.9, 13, 14, 12.6],
    [12.3, 11.2, 10.2, 9.5, 10.6, 11.7, 12.9, 14, 15, 13.6],
    [12.8, 11.7, 10.7, 10, 11.1, 12.2, 13.4, 14.5, 15.5, 14.1],
    [12.5, 11.5, 10.6, 10, 11, 12, 13.1, 14.1, 15, 13.8],
    [12, 11.2, 10.5, 10, 10.8, 11.6, 12.5, 13.3, 14, 13],
]
soil2_nov = [
    [6.3, 5.4, 4.5, 4, 4.9, 5.8, 6.8, 7.7, 8.5, 7.4],
    [6, 5.2, 4.5, 4, 4.8, 5.6, 6.5, 7.3, 8, 7],
    [],
    [6.3, 5.6, 4.9, 4.5, 5.2, 5.9, 6.7, 7.4, 8, 7.1],
    [6, 5, 4.1, 3.5, 4.5, 5.5, 6.6, 7.6, 8.5, 7.3],
    [5.3, 4.2, 3.2, 2.5, 3.6, 4.7, 5.9, 7, 8, 6.6],
    [5.5, 4.2, 3.1, 2.4, 3.6, 4.8, 6.2, 7.4, 8.5, 7],
    [6, 4.8, 3.7, 3, 4.2, 5.4, 6.7, 7.9, 9, 7.5],
    [6.3, 5.2, 4.2, 3.5, 4.6, 5.7, 6.9, 8, 9, 7.6],
    [5.5, 4.5, 3.6, 3, 4, 5, 6.1, 7.1, 8, 6.8],
    [5.8, 4.7, 3.7, 3, 4.1, 5.2, 6.4, 7.5, 8.5, 7.1],
    [5.5, 4.5, 3.6, 3, 4, 5, 6.1, 7.1, 8, 6.8],
]

# -------------------------------
# Soil moisture, first sensor (m3/m3)
# -------------------------------
sm1_jul = [
    [0.13, 0.125, 0.12], [0.12, 0.12, 0.12], [0.12, 0.12, 0.12], [0.12, 0.12, 0.115],
    [0.12, 0.11, 0.11], [0.11, 0.11, 0.11], [0.11, 0.11, 0.11], [0.11, 0.11, 0.11],
    [0.11, 0.11],
]
sm1_summer = [
    [0.21, 0.21, 0.205], [0.21, 0.21, 0.205], [0.21, 0.20, 0.19], [0.20, 0.21, 0.07, 0.075],
    [0.20, 0.07, 0.065], [0.075, 0.07, 0.07], [0.03], [],
    [0.08, 0.07, 0.06, 0.05, 0.06], [0.23, 0.22, 0.20, 0.17, 0.15, 0.13, 0.12],
    [0.27, 0.22, 0.20, 0.17, 0.15, 0.13, 0.12, 0.11], [0.15, 0.13, 0.12, 0.10, 0.10],
    [0.15, 0.14, 0.12, 0.11, 0.10], [0.14, 0.12, 0.11, 0.10], [0.13, 0.12, 0.10, 0.10],
    [0.23, 0.22, 0.21, 0.19, 0.17], [0.22, 0.20, 0.18, 0.16, 0.12, 0.09],
    [0.15, 0.14, 0.13, 0.12], [0.14, 0.13, 0.13, 0.12], [0.19, 0.18, 0.17, 0.16],
    [0.19, 0.17, 0.16, 0.15], [0.16, 0.155, 0.15], [0.15, 0.145, 0.14], [0.14, 0.135, 0.13],
    [0.13, 0.13, 0.125], [0.125, 0.12, 0.12], [0.12, 0.115, 0.11], [0.11, 0.11, 0.105],
    [0.105, 0.10, 0.10], [0.10, 0.10, 0.10], [0.10, 0.10, 0.10], [0.13, 0.12, 0.11, 0.10],
    [0.12, 0.11, 0.10, 0.09], [0.11, 0.10, 0.10, 0.09], [0.10, 0.10, 0.09],
    [0.24, 0.22, 0.19, 0.16, 0.13, 0.10, 0.08], [0.20, 0.16, 0.13, 0.10, 0.08, 0.07],
    [0.24, 0.22, 0.18, 0.14, 0.10, 0.08, 0.065], [0.23, 0.20, 0.16, 0.12, 0.08],
    [0.21, 0.20, 0.19, 0.08], [0.21, 0.20, 0.19, 0.18], [0.18, 0.17, 0.17, 0.16],
    [0.16, 0.16, 0.15, 0.15], [0.15, 0.14, 0.14, 0.13], [0.13, 0.12, 0.12, 0.11],
    [0.11, 0.11, 0.10, 0.10], [0.10, 0.09, 0.08, 0.08], [0.07, 0.06, 0.06, 0.05],
    [0.06, 0.04, 0.03, 0.05, 0.02, 0.04], [0.05, 0.03, 0.01, 0.04, 0.02, 0.06],
    [0.06, 0.03, 0.02, 0.05, 0.01, 0.04], [0.07, 0.04, 0.0, 0.03, 0.05, 0.10],
    [0.09, 0.05, 0.02, 0.06, 0.03, 0.07], [0.08, 0.05, 0.01, 0.04, 0.02, 0.06],
    [0.09, 0.06, 0.02, 0.07, 0.04, 0.08], [0.10, 0.07, 0.03, 0.08, 0.005, 0.06],
    [0.12, 0.09, 0.04, 0.10, 0.06, 0.11], [0.13, 0.11, 0.08, 0.12, 0.09, 0.13],
    [0.14, 0.12, 0.09, 0.13, 0.10, 0.14], [0.15, 0.13, 0.10, 0.14, 0.12, 0.16],
    [0.17, 0.15, 0.12, 0.16, 0.13, 0.17], [0.19, 0.17, 0.14, 0.18, 0.15, 0.18],
    [0.17, 0.16, 0.13, 0.17, 0.15, 0.16], [0.16, 0.15, 0.13, 0.16, 0.14, 0.15],
    [0.16, 0.15, 0.12, 0.15, 0.13, 0.16], [0.15, 0.14, 0.13, 0.15],
]
sm1_oct = [
    [0.16, 0.155, 0.15, 0.145], [0.15, 0.14, 0.14, 0.135], [0.135, 0.13, 0.125, 0.12],
    [0.125, 0.12, 0.12, 0.115], [0.115, 0.11, 0.11, 0.105], [0.11, 0.105, 0.10, 0.10],
    [0.10, 0.10, 0.095, 0.095], [0.095, 0.09, 0.09], [0.09, 0.085, 0.085, 0.082],
    [0.12, 0.14, 0.16, 0.18, 0.20, 0.082], [0.19, 0.20, 0.21, 0.22],
    [0.21, 0.22, 0.23, 0.24], [0.23, 0.24, 0.245, 0.25],
]
sm1_nov = [
    [0.26, 0.27, 0.28, 0.29, 0.30], [0.27, 0.28, 0.29, 0.30], [],
    [0.33, 0.32, 0.31, 0.30, 0.34], [0.34, 0.33, 0.32, 0.31, 0.30, 0.29],
    [0.34, 0.33, 0.32, 0.30, 0.29], [0.33, 0.32, 0.31, 0.30],
    [0.39, 0.37, 0.35, 0.34, 0.33], [0.35, 0.34, 0.33, 0.32, 0.31],
    [0.33, 0.32, 0.31, 0.30], [0.31, 0.30, 0.29, 0.29], [0.30, 0.29, 0.28, 0.28],
    [0.29, 0.28, 0.275, 0.27], [0.28, 0.275, 0.27, 0.27], [0.27, 0.27, 0.265, 0.265],
    [0.27, 0.28, 0.29, 0.28], [0.32, 0.30, 0.29, 0.285], [0.285, 0.28, 0.28, 0.275],
    [0.28, 0.275, 0.275, 0.27], [0.28, 0.275, 0.27, 0.27], [0.275, 0.27, 0.27, 0.265],
    [0.27, 0.27, 0.265, 0.265], [0.265, 0.265],
]

# -------------------------------
# Soil moisture, second sensor (m3/m3)
# -------------------------------
sm2_jul = [
    [0.15, 0.15, 0.14, 0.15], [0.15, 0.14, 0.14, 0.15], [0.15, 0.14, 0.14, 0.15],
    [0.15, 0.14, 0.14, 0.15], [0.15, 0.14, 0.14, 0.15], [0.15, 0.14, 0.14, 0.14],
    [0.14, 0.14, 0.13, 0.14], [0.14, 0.13, 0.13, 0.13], [0.13, 0.13],
]
sm2_summer = [
    [0.24, 0.235, 0.23], [0.23, 0.225, 0.22], [0.22, 0.215, 0.21], [0.215, 0.21, 0.21],
    [0.21, 0.205, 0.20], [0.21, 0.20, 0.20], [0.20, 0.10, 0.06], [],
    [0.22, 0.21, 0.19, 0.17, 0.15, 0.13, 0.11, 0.10], [0.20, 0.19, 0.18, 0.16, 0.14, 0.12],
    [0.19, 0.18, 0.17, 0.16], [0.26, 0.25, 0.23, 0.21, 0.20], [0.21, 0.20, 0.195, 0.19],
    [0.20, 0.19, 0.19, 0.185], [0.27, 0.26, 0.24, 0.22, 0.20, 0.19],
    [0.23, 0.20, 0.17, 0.14, 0.12, 0.035], [0.20, 0.19, 0.19], [0.21, 0.20, 0.19],
    [0.20, 0.195, 0.19], [0.25, 0.245, 0.24, 0.23, 0.22], [0.22, 0.215, 0.21],
    [0.21, 0.20, 0.195], [0.19, 0.185, 0.18], [0.175, 0.17, 0.165], [0.16, 0.155, 0.15],
    [0.15, 0.15, 0.145], [0.145, 0.14, 0.14], [0.14, 0.14, 0.135], [0.135, 0.13, 0.13],
    [0.13, 0.13, 0.125], [0.20, 0.19, 0.18, 0.17, 0.16], [0.16, 0.15, 0.15, 0.14],
    [0.18, 0.17, 0.16, 0.15, 0.14], [0.15, 0.14, 0.13, 0.12, 0.11], [0.13, 0.12, 0.11, 0.105],
    [0.19, 0.17, 0.15, 0.13, 0.11], [0.15, 0.14, 0.13, 0.12], [0.22, 0.21, 0.20, 0.19, 0.18],
    [0.23, 0.22, 0.21, 0.20], [0.27, 0.26, 0.25, 0.24, 0.23], [0.24, 0.23, 0.22],
    [0.22, 0.21, 0.205], [0.20, 0.19, 0.185], [0.18, 0.175, 0.17], [0.165, 0.16, 0.155],
    [0.15, 0.145, 0.14], [0.13, 0.12, 0.115], [0.11, 0.105, 0.10], [0.10, 0.095, 0.09],
    [0.09, 0.085, 0.08], [0.08, 0.075, 0.07], [0.075, 0.07, 0.065],
    [0.13, 0.12, 0.10, 0.08, 0.07], [0.12, 0.11, 0.09, 0.08, 0.07],
    [0.13, 0.11, 0.10, 0.09, 0.08], [0.15, 0.14, 0.12, 0.11, 0.10],
    [0.18, 0.17, 0.15, 0.14, 0.13], [0.21, 0.19, 0.17, 0.16, 0.15],
    [0.24, 0.22, 0.20, 0.18, 0.17], [0.26, 0.25, 0.23, 0.21, 0.20],
    [0.25, 0.24, 0.22, 0.21, 0.19], [0.24, 0.23, 0.21, 0.20], [0.22, 0.21, 0.20, 0.19],
    [0.21, 0.20, 0.19, 0.185], [0.20, 0.19, 0.185],
]
sm2_oct = [
    [0.17, 0.19, 0.21, 0.22], [0.23, 0.225, 0.22, 0.215], [0.21, 0.205, 0.20, 0.195],
    [0.19, 0.185, 0.18, 0.18], [0.175, 0.17, 0.17, 0.165], [0.165, 0.16, 0.16, 0.155],
    [0.155, 0.15, 0.15, 0.15], [0.15, 0.145, 0.145, 0.14], [0.145, 0.14, 0.14, 0.14],
    [0.14, 0.16, 0.17, 0.18], [0.22, 0.24, 0.26, 0.25, 0.23], [0.28, 0.27, 0.25, 0.24, 0.23],
    [0.30, 0.29, 0.27, 0.26, 0.25], [0.28, 0.27, 0.26, 0.25, 0.24],
]
sm2_nov = [
    [0.27, 0.29, 0.31, 0.33], [0.34, 0.32, 0.30, 0.28], [],
    [0.34, 0.33, 0.32, 0.31], [0.34, 0.33, 0.32, 0.31, 0.30], [0.33, 0.32, 0.31, 0.30],
    [0.34, 0.33, 0.32, 0.31], [0.40, 0.39, 0.37, 0.36, 0.35], [0.35, 0.34, 0.33, 0.32],
    [0.32, 0.315, 0.31, 0.305], [0.305, 0.30, 0.30, 0.295], [0.295, 0.29, 0.29, 0.285],
    [0.29, 0.285, 0.285, 0.285], [0.285, 0.285, 0.29, 0.29], [0.30, 0.31, 0.32, 0.31],
    [0.315, 0.31, 0.305, 0.30], [0.30, 0.30, 0.295, 0.295], [0.30, 0.30, 0.295, 0.29],
    [0.295, 0.29, 0.29, 0.29], [0.295, 0.29, 0.29, 0.285], [0.29, 0.29, 0.285, 0.285],
    [0.29, 0.285, 0.285, 0.28], [0.285, 0.28],
]

# -------------------------------
# Daily rain (mm)
# -------------------------------
rain_day = [1, 2, 20, 22, 24, 26, 27, 29, 30, 31, 34, 35, 39, 42, 45, 46, 48, 51, 52, 53,
            54, 55, 57, 67, 68, 69, 70, 71, 72, 74, 75, 76, 77, 78, 80, 81,
            93, 101, 102, 104, 105, 106, 107, 109, 110, 112, 113, 114, 116, 117, 118, 119,
            120, 122, 123, 124, 127, 128, 130, 131, 133, 134, 136, 140, 142, 149, 151, 156,
            159, 164, 165, 170, 171, 173, 174, 175, 176, 178, 179, 182, 183]
rain_mm = [0.8, 1.6, 0.1, 8.8, 0.6, 1.1, 5.8, 0.1, 4.3, 0.1, 1.0, 6.5, 0.1, 1.1, 4.2, 4.2, 0.1,
           0.2, 1.1, 0.4, 13.6, 3.1, 0.1, 0.5, 4.2, 4.2, 3.4, 3.4, 2.0, 4.0, 1.6, 1.6, 1.2,
           0.6, 1.4, 0.1,
           0.8, 0.2, 16.8, 13.8, 11.0, 2.6, 5.2, 0.3, 5.4, 12.7, 4.4, 0.1, 2.0, 2.3, 0.6,
           14.7, 0.6, 0.5, 9.6, 2.2, 2.0, 7.3, 3.1, 3.5, 4.0, 1.0, 0.1, 2.1, 4.4, 0.1, 0.1,
           0.3, 0.3, 1.2, 4.1, 6.4, 0.5, 0.1, 0.5, 3.3, 4.1, 2.8, 1.8, 0.5, 1.4]


def readings(blocks):
    # spread each day's readings evenly over that day
    xs, ys = [], []
    for start, rows in blocks:
        for k, row in enumerate(rows):
            for i, v in enumerate(row):
                xs.append(start + k + (i + 0.5) / len(row))
                ys.append(v)
    return xs, ys


fig = plt.figure(figsize=(W / 100, H / 100), dpi=100)


def panel(l, t, r, b):
    return fig.add_axes([l / W, 1 - b / H, (r - l) / W, (b - t) / H])


def style(ax, xlim, ylim, yticks, ylabels, days, labels, label):
    ax.set_xlim(*xlim)
    ax.set_ylim(*ylim)
    ax.set_xticks(days)
    ax.set_xticklabels(labels)
    ax.set_yticks(yticks)
    ax.set_yticklabels(ylabels)
    ax.tick_params(axis='x', direction='out', length=7, width=1.2, pad=6, color='#222')
    ax.tick_params(axis='y', direction='out', length=7, width=1.2, pad=4, color='#222')
    for s in ax.spines.values():
        s.set_linewidth(1.3)
        s.set_color('#222')
    pos = ax.get_position()
    fig.text(26 / W, pos.y0 + pos.height / 2, label, rotation=90,
             ha='center', va='center', fontsize=13.5)


# -------------------------------
# Panel 1: radiation
# -------------------------------
ax1 = panel(104, 6, 861.7, 215)
x, y = readings([(0, rad_jul), (31, rad_aug), (62, rad_sep), (92, rad_oct),
                 (126, rad_nov1), (129, rad_nov_dec)])
ax1.plot(x, y, 'o', ms=4.0, color='black', mew=0)
style(ax1, (-0.66, 185.08), (-3, 888), [0, 200, 400, 600, 800],
      ['0', '200', '400', '600', '800'], tick_days, tick_labels, 'Radiation (W/m²)')

# -------------------------------
# Panel 2: air temperature
# -------------------------------
ax2 = panel(93.3, 295.7, 861.7, 515)
x, y = readings([(3, air_jul_oct), (130, air_nov_dec), (170, air_dec)])
ax2.plot(x, y, 'o', ms=4.0, color='black', mew=0)
style(ax2, (-0.65, 185.06), (-2.91, 30.66), [0, 10, 20, 30],
      ['0', '10', '20', '30'], tick_days, tick_labels, 'Air temp (°C)')

# -------------------------------
# Panel 3: soil temperature (filled)
# -------------------------------
ax3 = panel(93.3, 594.3, 864, 816)
x, y = readings([(0, soil1_jul), (15, soil1_jul2), (25, soil1_aug), (66, soil1_sep),
                 (93, soil1_oct), (126, soil1_nov)])
ax3.plot(x, y, 'o', ms=6.0, color='black', mew=0)
style(ax3, (-1.38, 185.63), (-1.28, 40.9), [0, 10, 20, 30, 40],
      ['0', '10', '20', '30', '40'], tick_days, tick_labels, 'Soil temp (°C)')

# -------------------------------
# Panel 4: soil temperature (open)
# -------------------------------
ax4 = panel(93.3, 895, 864, 1116)
x, y = readings([(0, soil2_jul), (15, soil2_jul2), (25, soil2_aug), (66, soil2_sep),
                 (93, soil2_oct), (126, soil2_nov)])
ax4.plot(x, y, 'o', ms=5.2, mfc='none', mec='black', mew=1.1)
style(ax4, (-1.38, 185.63), (-1.28, 40.96), [0, 10, 20, 30, 40],
      ['0', '10', '20', '30', '40'], tick_days, tick_labels, 'Soil temp (°C)')

# -------------------------------
# Panel 5: soil moisture (filled)
# -------------------------------
ax5 = panel(98.7, 1195, 864, 1403.3)
x, y = readings([(0, sm1_jul), (15, sm1_summer), (93, sm1_oct), (126, sm1_nov)])
ax5.plot(x, y, 'o', ms=6.0, color='black', mew=0)
style(ax5, (-1.29, 185.64), (-0.0122, 0.4101), [0, 0.1, 0.2, 0.3, 0.4],
      ['0.0', '0.1', '0.2', '0.3', '0.4'], tick_days, tick_labels, 'SM (m³/m³)')

# -------------------------------
# Panel 6: soil moisture + daily rain
# -------------------------------
ax6 = panel(98.7, 1479.3, 799, 1657.3)
ax6r = ax6.twinx()
ax6r.bar(rain_day, rain_mm, width=0.95, align='edge', color='black',
         edgecolor='black', linewidth=0.6)
ax6r.set_ylim(-0.1, 17.32)
ax6r.set_yticks([0, 5, 10, 15])
ax6r.set_yticklabels(['0', '5', '10', '15'])
ax6r.tick_params(axis='y', direction='out', length=7, width=1.2, pad=4, color='#222')
ax6.set_zorder(ax6r.get_zorder() + 1)
ax6.patch.set_visible(False)
x, y = readings([(0, sm2_jul), (16, sm2_summer), (92, sm2_oct), (126, sm2_nov)])
ax6.plot(x, y, 'o', ms=4.8, mfc='none', mec='black', mew=1.0)
style(ax6, (-1.5, 185.79), (0.0352, 0.4121), [0.1, 0.2, 0.3, 0.4],
      ['0.1', '0.2', '0.3', '0.4'], month_days, month_labels, 'SM (m³/m³)')
for s in ax6r.spines.values():
    s.set_linewidth(1.3)
    s.set_color('#222')
fig.text(869.5 / W, 1 - 1568 / H, 'Daily rain (mm)', rotation=90,
         ha='center', va='center', fontsize=13.5)
fig.text(449 / W, 1 - 1745 / H, 'Date', ha='center', va='center', fontsize=13.5)

plt.savefig('out.png', dpi=100)
